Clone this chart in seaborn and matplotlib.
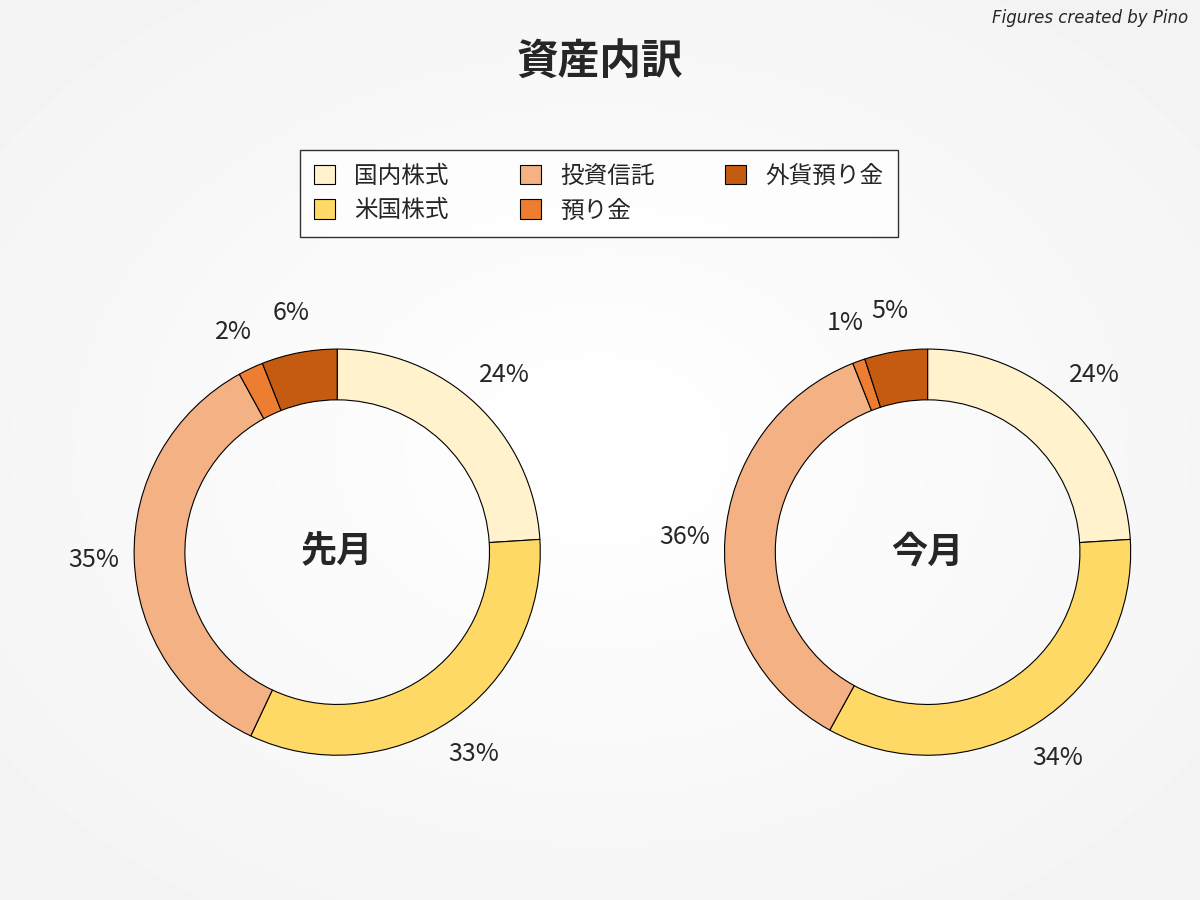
import numpy as np
import matplotlib
matplotlib.use("Agg")
import matplotlib.pyplot as plt
import seaborn as sns
from matplotlib.patches import Patch

sns.set_theme(style="white")
plt.rcParams['font.family'] = ['Noto Sans CJK JP', 'DejaVu Sans']

# --- Daten ---
categories = ['国内株式', '米国株式', '投資信託', '預り金', '外貨預り金']
last_month = [24, 33, 35, 2, 6]
this_month = [24, 34, 36, 1, 5]
colors = ['#FFF2CC', '#FFD966', '#F4B183', '#ED7D31', '#C55A11']
panel_titles = ['先月', '今月']

fig = plt.figure(figsize=(12, 9), dpi=100)

# Hintergrund mit leichtem radialen Verlauf
bg = fig.add_axes([0, 0, 1, 1], zorder=-10)
yy, xx = np.mgrid[-1:1:300j, -1:1:400j]
rr = np.sqrt(xx ** 2 + yy ** 2)
bg.imshow(1 - 0.05 * np.clip(rr, 0, 1.4) / 1.4, cmap='gray', vmin=0, vmax=1,
          extent=[0, 1, 0, 1], aspect='auto')
bg.axis('off')

fig.text(0.5, 0.93, '資産内訳', ha='center', va='center', fontsize=30, fontweight='bold')
fig.text(0.99, 0.98, 'Figures created by Pino', ha='right', va='center',
         fontsize=12, style='italic', family=['DejaVu Sans'])

centers = [0.281, 0.773]
for cx, vals, title in zip(centers, [last_month, this_month], panel_titles):
    ax = fig.add_axes([cx - 0.22, 0.093, 0.44, 0.587])
    wedges, _ = ax.pie(vals, colors=colors, startangle=90, counterclock=False,
                       radius=1.0, wedgeprops=dict(width=0.25, edgecolor='black', linewidth=0.8))
    total = sum(vals)
    for w, v in zip(wedges, vals):
        ang = np.deg2rad((w.theta1 + w.theta2) / 2)
        r = 1.2
        ax.text(r * np.cos(ang), r * np.sin(ang), f'{v}%', ha='center', va='center',
                fontsize=18)
    ax.text(0, 0, title, ha='center', va='center', fontsize=26, fontweight='bold')
    ax.set_xlim(-1.3, 1.3)
    ax.set_ylim(-1.3, 1.3)
    ax.set_aspect('equal')
    ax.axis('off')

handles = [Patch(facecolor=c, edgecolor='black', linewidth=0.8) for c in colors]
leg = fig.legend(handles, categories, loc='center', bbox_to_anchor=(0.499, 0.785),
                 ncol=3, fontsize=17, frameon=True, fancybox=False, edgecolor='black',
                 handlelength=0.9, handleheight=0.9, columnspacing=3.0,
                 borderpad=0.6, labelspacing=0.5)
leg.get_frame().set_linewidth(1.0)
leg.get_frame().set_facecolor('white')

fig.savefig('out.png', dpi=100)
